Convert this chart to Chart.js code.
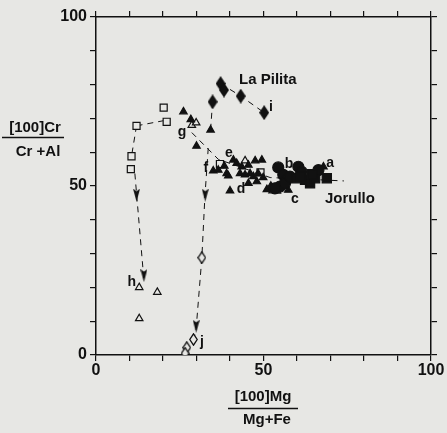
<!DOCTYPE html>
<html>
<head>
<meta charset="utf-8">
<script src="https://cdn.jsdelivr.net/npm/chart.js@4/dist/chart.umd.min.js"></script>
<style>
  html, body { margin: 0; padding: 0; background: #e7e7e4; }
  #wrap { width: 447px; height: 433px; }
</style>
</head>
<body>
<div id="wrap"><canvas id="spinelChart"></canvas></div>
<script>
// values: x = 100Mg/(Mg+Fe), y = 100Cr/(Cr+Al)
const shownTicks = [0, 50, 100];

const openSquares = [
  [12.1, 67.8], [20.2, 73.2], [21.1, 69.0], [10.6, 58.8], [10.4, 55.0], [37.0, 56.5], [49.1, 54.0]
];
const openTriangles = [
  [12.9, 20.0], [18.3, 18.6], [12.9, 10.8], [28.6, 68.0], [29.9, 68.7], [44.5, 57.5], [52.7, 48.6], [54.0, 48.5]
];
const openDiamonds = [
  [31.6, 28.8], [29.1, 4.6], [27.1, 2.2], [26.6, 0.5]
];
const filledDiamonds = [
  [34.8, 74.9], [37.2, 80.3], [38.2, 78.4], [43.2, 76.6], [50.2, 71.7]
];
const filledTriangles = [
  [26.1, 72.0], [28.3, 69.7], [34.2, 66.6], [30.0, 61.8], [35.0, 54.5], [36.5, 54.7],
  [38.3, 55.9], [39.0, 53.7], [39.5, 53.0], [40.0, 48.6], [41.0, 57.7], [42.0, 56.7],
  [43.5, 55.7], [45.5, 56.2], [47.5, 57.5], [43.0, 53.7], [44.5, 53.3], [46.0, 53.7],
  [47.0, 52.8], [48.4, 53.7], [49.9, 52.5], [51.0, 49.0], [49.5, 57.7], [45.5, 50.8],
  [48.0, 51.3], [52.2, 50.0], [57.4, 48.8], [67.9, 55.7]
];
const filledCircles = [
  [54.4, 55.5], [55.9, 53.3], [60.4, 55.7], [61.4, 54.2], [66.4, 54.7],
  [56.9, 51.8], [54.9, 49.8], [56.4, 50.8], [57.9, 52.8], [53.4, 49.3]
];
const filledSquares = [
  [59.9, 52.3], [62.4, 51.8], [63.9, 50.8], [65.4, 52.3], [68.9, 52.3], [61.0, 52.8], [64.5, 53.5]
];

// dashed trend lines
const squaresTop = [[12.1, 67.8], [21.1, 69.5]];
const squaresDown = [[12.1, 67.8], [10.6, 58.8]];
const hPath = [[11.6, 53.7], [14.3, 22.2]];
const gPath = [[28.6, 65.8], [36.5, 57.9], [52.0, 52.5], [74.0, 51.5]];
const jPath = [[33.5, 61.2], [32.5, 46.8], [31.6, 28.8], [29.9, 7.9], [29.4, 5.5]];
const pilitaPath = [[37.2, 80.3], [43.2, 76.6], [50.2, 71.7]];
const pilitaDrop = [[34.8, 74.9], [34.2, 66.6]];
const arrowHeads = [[12.1, 47.3], [14.3, 23.5], [32.6, 47.3], [29.9, 8.5]];

const pointLabels = [
  { text: "La Pilita", x: 51.3, y: 81.4, size: 15 },
  { text: "Jorullo", x: 75.8, y: 46.2, size: 15 },
  { text: "a", x: 69.9, y: 56.8, size: 14 },
  { text: "b", x: 57.6, y: 56.5, size: 14 },
  { text: "c", x: 59.4, y: 46.2, size: 14 },
  { text: "d", x: 43.3, y: 49.1, size: 14 },
  { text: "e", x: 39.7, y: 59.8, size: 14 },
  { text: "f", x: 32.8, y: 55.3, size: 14 },
  { text: "g", x: 25.7, y: 66.0, size: 14 },
  { text: "h", x: 10.7, y: 21.6, size: 14 },
  { text: "i", x: 52.2, y: 73.4, size: 14 },
  { text: "j", x: 31.6, y: 3.8, size: 14 }
];

const fontFamily = "'Liberation Sans', Arial, sans-serif";
const ink = "#111111";
const paper = "#e7e7e4";

const toXY = (arr) => arr.map((p) => ({ x: p[0], y: p[1] }));

// tall diamond / arrow-head sprites used as point styles
function sprite(w, h, draw) {
  const cv = document.createElement("canvas");
  cv.width = w;
  cv.height = h;
  const g = cv.getContext("2d");
  draw(g, w, h);
  return cv;
}
const tallDiamond = sprite(10, 15, (g, w, h) => {
  g.beginPath();
  g.moveTo(w / 2, 0); g.lineTo(w, h / 2); g.lineTo(w / 2, h); g.lineTo(0, h / 2);
  g.closePath();
  g.fillStyle = ink;
  g.fill();
});
const openTallDiamond = sprite(9, 13, (g, w, h) => {
  g.beginPath();
  g.moveTo(w / 2, 0.8); g.lineTo(w - 0.8, h / 2); g.lineTo(w / 2, h - 0.8); g.lineTo(0.8, h / 2);
  g.closePath();
  g.fillStyle = paper;
  g.fill();
  g.lineWidth = 1.3;
  g.strokeStyle = ink;
  g.stroke();
});
const arrowDown = sprite(7, 13, (g, w, h) => {
  g.beginPath();
  g.moveTo(0, 0); g.lineTo(w / 2, 2.5); g.lineTo(w, 0); g.lineTo(w / 2, h);
  g.closePath();
  g.fillStyle = ink;
  g.fill();
});

function markers(data, style, radius, filled) {
  return {
    data: toXY(data),
    showLine: false,
    pointStyle: style,
    pointRadius: radius,
    pointBorderWidth: 1.2,
    pointBorderColor: ink,
    pointBackgroundColor: filled ? ink : paper,
    order: 1
  };
}

function dashed(data) {
  return {
    data: toXY(data),
    showLine: true,
    borderColor: ink,
    borderWidth: 1,
    borderDash: [6, 5],
    pointRadius: 0,
    order: 5
  };
}

// labels and fraction-style axis titles
const textPlugin = {
  id: "figureText",
  afterDraw(chart) {
    const c = chart.ctx;
    const xs = chart.scales.x;
    const ys = chart.scales.y;
    c.save();
    c.fillStyle = ink;
    c.strokeStyle = ink;
    c.textAlign = "center";
    c.textBaseline = "middle";
    pointLabels.forEach((l) => {
      c.font = "bold " + l.size + "px " + fontFamily;
      c.fillText(l.text, xs.getPixelForValue(l.x), ys.getPixelForValue(l.y));
    });

    c.font = "bold 15px " + fontFamily;
    c.lineWidth = 1.3;
    // y title
    c.fillText("[100]Cr", 35, 128);
    c.beginPath(); c.moveTo(2, 137.5); c.lineTo(64, 137.5); c.stroke();
    c.fillText("Cr +Al", 38, 152);
    // x title
    c.fillText("[100]Mg", 263, 397);
    c.beginPath(); c.moveTo(228, 408.5); c.lineTo(298, 408.5); c.stroke();
    c.fillText("Mg+Fe", 267, 420);
    c.restore();
  }
};

const edgeGrid = {
  display: true,
  drawOnChartArea: false,
  drawTicks: true,
  tickLength: 6,
  color: ink,
  lineWidth: 1.2
};

new Chart(document.getElementById("spinelChart"), {
  type: "scatter",
  data: {
    datasets: [
      { data: toXY(filledDiamonds), showLine: false, pointStyle: tallDiamond, order: 1 },
      { data: toXY(openDiamonds), showLine: false, pointStyle: openTallDiamond, order: 1 },
      markers(filledSquares, "rect", 6.5, true),
      markers(filledCircles, "circle", 5.5, true),
      markers(filledTriangles, "triangle", 4.3, true),
      markers(openTriangles, "triangle", 4.3, false),
      markers(openSquares, "rect", 5, false),
      { data: toXY(arrowHeads), showLine: false, pointStyle: arrowDown, order: 2 },
      dashed(squaresTop),
      dashed(squaresDown),
      dashed(hPath),
      dashed(gPath),
      dashed(jPath),
      dashed(pilitaPath),
      dashed(pilitaDrop)
    ]
  },
  options: {
    responsive: true,
    maintainAspectRatio: false,
    animation: false,
    layout: { padding: 0 },
    plugins: { legend: { display: false }, tooltip: { enabled: false } },
    scales: {
      x: {
        type: "linear",
        min: 0,
        max: 100,
        grid: edgeGrid,
        border: { display: true, color: ink, width: 1.5 },
        ticks: {
          stepSize: 10,
          padding: 0,
          color: ink,
          font: { family: fontFamily, size: 16, weight: "bold" },
          maxRotation: 0,
          autoSkip: false,
          callback: (v) => (shownTicks.includes(v) ? String(v) : "")
        },
        afterFit: (s) => { s.height = 78; }
      },
      x2: {
        type: "linear",
        position: "top",
        min: 0,
        max: 100,
        grid: edgeGrid,
        border: { display: true, color: ink, width: 1.5 },
        ticks: { stepSize: 10, display: false },
        afterFit: (s) => { s.height = 17; }
      },
      y: {
        type: "linear",
        min: 0,
        max: 100,
        grid: edgeGrid,
        border: { display: true, color: ink, width: 1.5 },
        ticks: {
          stepSize: 10,
          padding: 3,
          color: ink,
          font: { family: fontFamily, size: 16, weight: "bold" },
          autoSkip: false,
          callback: (v) => (shownTicks.includes(v) ? String(v) : "")
        },
        afterFit: (s) => { s.width = 96; }
      },
      y2: {
        type: "linear",
        position: "right",
        min: 0,
        max: 100,
        grid: edgeGrid,
        border: { display: true, color: ink, width: 1.5 },
        ticks: { stepSize: 10, display: false },
        afterFit: (s) => { s.width = 16; }
      }
    }
  },
  plugins: [textPlugin]
});
</script>
</body>
</html>
